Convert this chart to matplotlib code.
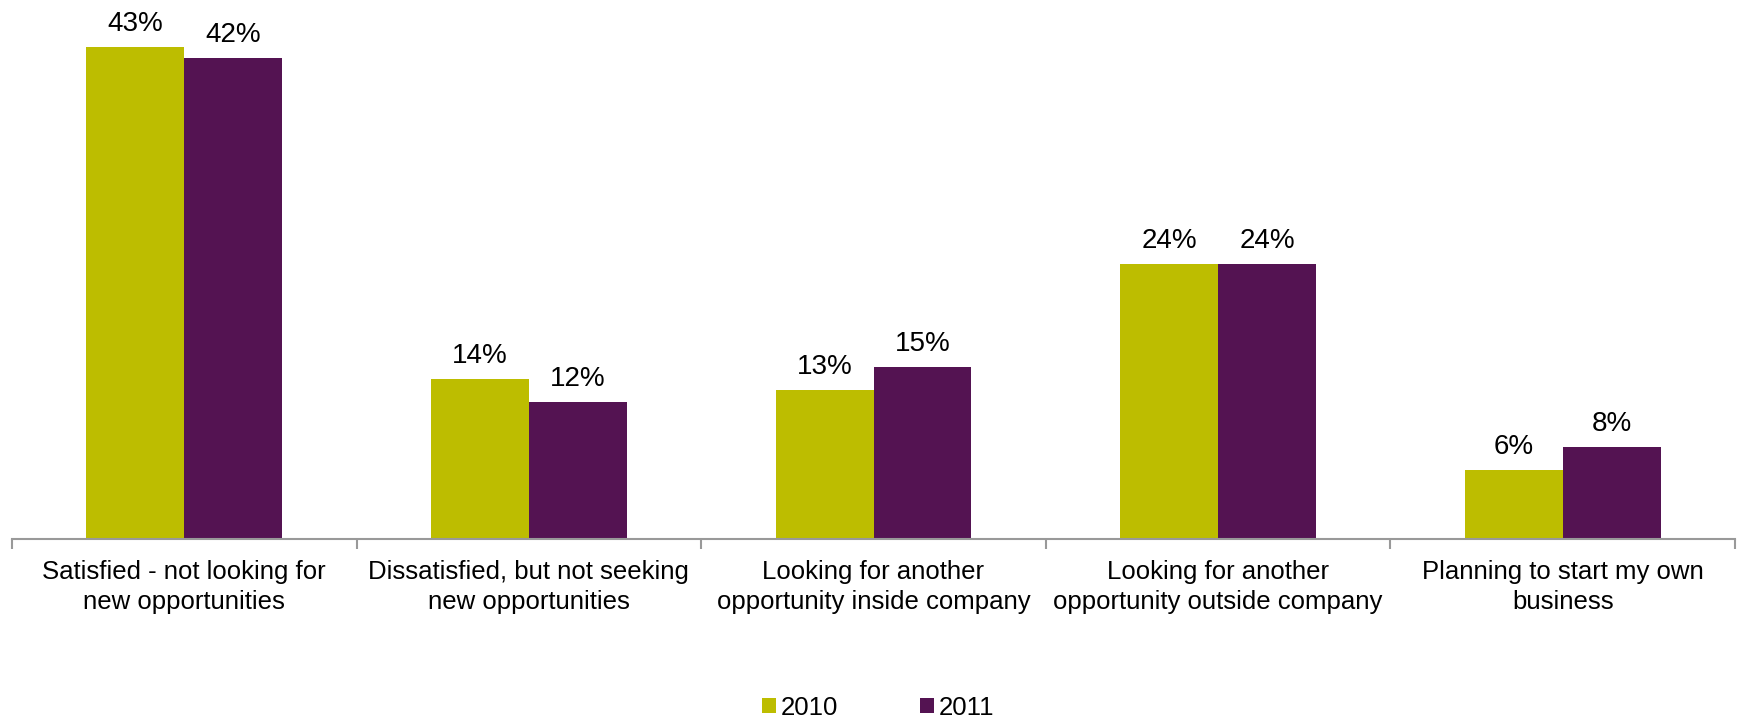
import matplotlib
matplotlib.use("Agg")
import matplotlib.pyplot as plt
from matplotlib.patches import Patch
import numpy as np

plt.rcParams['font.family'] = ['Liberation Sans', 'DejaVu Sans']

categories = [
    "Satisfied - not looking for\nnew opportunities",
    "Dissatisfied, but not seeking\nnew opportunities",
    "Looking for another\nopportunity inside company",
    "Looking for another\nopportunity outside company",
    "Planning to start my own\nbusiness",
]
series_names = ["2010", "2011"]
values_2010 = [43, 14, 13, 24, 6]
values_2011 = [42, 12, 15, 24, 8]

colors = ["#BDBD00", "#541352"]
FS = 18.5
FS_VAL = 20

fig = plt.figure(figsize=(17.39, 7.21), dpi=100)
ax = fig.add_axes([12 / 1739, 182 / 721, 1723 / 1739, 515.3 / 721])

x = np.arange(len(categories))
w = 0.284
for i, (vals, col, name) in enumerate(zip([values_2010, values_2011], colors, series_names)):
    pos = x + (i - 0.5) * w
    bars = ax.bar(pos, vals, width=w, color=col, label=name, zorder=2)
    for b, v in zip(bars, vals):
        ax.annotate(f"{v}%", (b.get_x() + b.get_width() / 2, b.get_height()),
                    xytext=(0, 11.5), textcoords="offset points",
                    ha="center", va="baseline", fontsize=FS_VAL, color="black")

ax.set_xlim(-0.5, len(categories) - 0.5)
ax.set_ylim(0, 45)

for s in ["top", "right", "left"]:
    ax.spines[s].set_visible(False)
ax.spines["bottom"].set_color("#999999")
ax.spines["bottom"].set_linewidth(1.5)
ax.set_yticks([])

ax.set_xticks(x)
ax.set_xticklabels(categories, fontsize=FS, linespacing=1.3)
ax.tick_params(axis="x", which="major", length=0, pad=15)
ax.set_xticks(np.arange(len(categories) + 1) - 0.5, minor=True)
ax.tick_params(axis="x", which="minor", length=7, width=1.5, color="#999999")

handles = [Patch(facecolor=c, edgecolor="none") for c in colors]
fig.legend(handles, series_names, loc="center", bbox_to_anchor=(0.505, 0.018),
           ncol=2, frameon=False, fontsize=FS, handlelength=0.52, handleheight=0.52,
           handletextpad=0.2, columnspacing=3.2, borderpad=0, borderaxespad=0)

fig.savefig("out.png", dpi=100, facecolor="white")
